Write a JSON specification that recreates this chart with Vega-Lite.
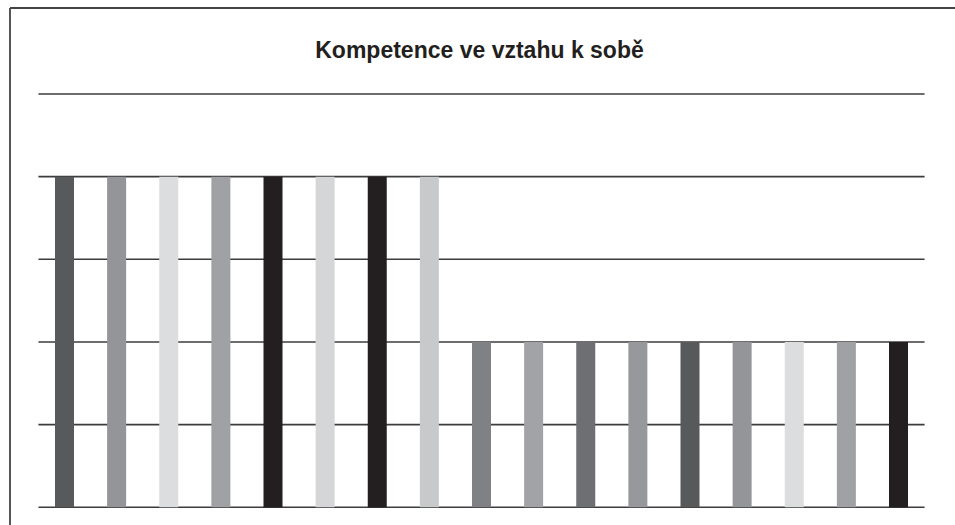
{
  "$schema": "https://vega.github.io/schema/vega-lite/v6.json",
  "width": 945,
  "height": 517,
  "autosize": {"type": "none"},
  "padding": {"left": 10, "top": 8, "right": 0, "bottom": 0},
  "background": "white",
  "config": {"view": {"stroke": null}},
  "title": {
    "text": "Kompetence ve vztahu k sobě",
    "anchor": "middle",
    "frame": "group",
    "orient": "top",
    "offset": -74,
    "baseline": "alphabetic",
    "dx": -3,
    "font": "Liberation Sans",
    "fontSize": 23,
    "fontWeight": "bold",
    "color": "#231f20"
  },
  "datasets": {
    "bars": [
      {"item": "1", "pos": 1, "value": 4},
      {"item": "2", "pos": 2, "value": 4},
      {"item": "3", "pos": 3, "value": 4},
      {"item": "4", "pos": 4, "value": 4},
      {"item": "5", "pos": 5, "value": 4},
      {"item": "6", "pos": 6, "value": 4},
      {"item": "7", "pos": 7, "value": 4},
      {"item": "8", "pos": 8, "value": 4},
      {"item": "9", "pos": 9, "value": 2},
      {"item": "10", "pos": 10, "value": 2},
      {"item": "11", "pos": 11, "value": 2},
      {"item": "12", "pos": 12, "value": 2},
      {"item": "13", "pos": 13, "value": 2},
      {"item": "14", "pos": 14, "value": 2},
      {"item": "15", "pos": 15, "value": 2},
      {"item": "16", "pos": 16, "value": 2},
      {"item": "17", "pos": 17, "value": 2}
    ],
    "grid": [
      {"tick": 0}, {"tick": 1}, {"tick": 2}, {"tick": 3}, {"tick": 4}, {"tick": 5}
    ]
  },
  "layer": [
    {
      "data": {"values": [{}]},
      "mark": {"type": "rule", "stroke": "#444444", "strokeWidth": 1.8, "clip": false},
      "encoding": {
        "x": {"datum": -0.0456, "type": "quantitative", "scale": {"domain": [-0.0456, 18.084], "nice": false, "zero": false, "padding": 0}, "axis": null},
        "x2": {"datum": 25},
        "y": {"datum": 6.04, "type": "quantitative", "scale": {"domain": [-0.214, 6.04], "nice": false, "zero": false, "padding": 0}, "axis": null}
      }
    },
    {
      "data": {"values": [{}]},
      "mark": {"type": "rule", "stroke": "#444444", "strokeWidth": 1.8, "clip": false},
      "encoding": {
        "x": {"datum": -0.0456, "type": "quantitative", "scale": {"domain": [-0.0456, 18.084], "nice": false, "zero": false, "padding": 0}, "axis": null},
        "y": {"datum": 6.04, "type": "quantitative", "scale": {"domain": [-0.214, 6.04], "nice": false, "zero": false, "padding": 0}, "axis": null},
        "y2": {"datum": -3}
      }
    },
    {
      "data": {"name": "grid"},
      "mark": {"type": "rule", "stroke": "#3c3c3c", "strokeWidth": 1.6},
      "encoding": {
        "y": {"field": "tick", "type": "quantitative", "scale": {"domain": [-0.214, 6.04], "nice": false, "zero": false, "padding": 0}, "axis": null},
        "x": {"datum": 0.5, "type": "quantitative", "scale": {"domain": [-0.0456, 18.084], "nice": false, "zero": false, "padding": 0}, "axis": null},
        "x2": {"datum": 17.5}
      }
    },
    {
      "data": {"name": "bars"},
      "mark": {"type": "bar", "width": 19},
      "encoding": {
        "x": {"field": "pos", "type": "quantitative", "scale": {"domain": [-0.0456, 18.084], "nice": false, "zero": false, "padding": 0}, "axis": null},
        "y": {"field": "value", "type": "quantitative", "scale": {"domain": [-0.214, 6.04], "nice": false, "zero": false, "padding": 0}, "axis": null},
        "y2": {"datum": 0},
        "color": {
          "field": "item",
          "type": "nominal",
          "legend": null,
          "scale": {
            "domain": ["1","2","3","4","5","6","7","8","9","10","11","12","13","14","15","16","17"],
            "range": ["#58595b","#939598","#dcdddf","#a0a1a4","#231f20","#d5d6d8","#231f20","#c8c9cb","#808184","#a2a3a6","#6e6f73","#97989b","#58595b","#939598","#dcdddf","#a0a1a4","#231f20"]
          }
        }
      }
    }
  ]
}
